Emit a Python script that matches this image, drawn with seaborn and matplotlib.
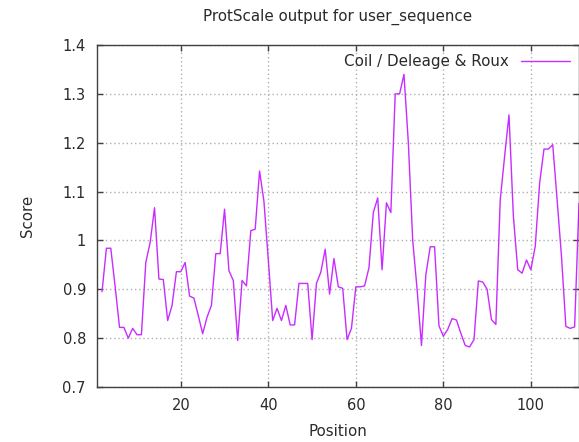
import matplotlib
matplotlib.use("Agg")
import matplotlib.pyplot as plt
import matplotlib.ticker as mticker
import seaborn as sns
import pandas as pd

positions = list(range(2, 112))
scores = [
    0.895, 0.984, 0.984, 0.905, 0.822, 0.822, 0.800, 0.820, 0.807, 0.807,   # 2-11
    0.955, 0.996, 1.067, 0.921, 0.920, 0.836, 0.867, 0.936, 0.936, 0.955,   # 12-21
    0.886, 0.882, 0.846, 0.809, 0.843, 0.867, 0.973, 0.973, 1.064, 0.938,   # 22-31
    0.918, 0.795, 0.918, 0.907, 1.020, 1.023, 1.142, 1.080, 0.960, 0.836,   # 32-41
    0.861, 0.836, 0.867, 0.827, 0.827, 0.912, 0.912, 0.912, 0.797, 0.912,   # 42-51
    0.935, 0.982, 0.890, 0.963, 0.905, 0.902, 0.797, 0.820, 0.905, 0.905,   # 52-61
    0.907, 0.944, 1.057, 1.087, 0.940, 1.077, 1.057, 1.300, 1.300, 1.340,   # 62-71
    1.200, 1.000, 0.900, 0.785, 0.930, 0.987, 0.987, 0.825, 0.804, 0.818,   # 72-81
    0.840, 0.837, 0.810, 0.785, 0.782, 0.797, 0.917, 0.915, 0.900, 0.838,   # 82-91
    0.828, 1.083, 1.172, 1.257, 1.050, 0.940, 0.933, 0.960, 0.940, 0.988,   # 92-101
    1.117, 1.187, 1.187, 1.196, 1.083, 0.967, 0.824, 0.820, 0.823, 1.076,   # 102-111
]
series_name = "Coil / Deleage & Roux"
title = "ProtScale output for user_sequence"
x_ticks = [20, 40, 60, 80, 100]
y_ticks = [0.7, 0.8, 0.9, 1.0, 1.1, 1.2, 1.3, 1.4]

df = pd.DataFrame({"Position": positions, "Score": scores})

sns.set_style("white")
plt.rcParams["font.family"] = ["DejaVu Sans"]

fig = plt.figure(figsize=(5.79, 4.42), dpi=100)
ax = fig.add_axes([97 / 579, 55 / 442, (579 - 97) / 579, (387 - 45) / 442])

sns.lineplot(data=df, x="Position", y="Score", ax=ax, color="#c82cff",
             linewidth=1.0, label=series_name)

ax.set_xlim(0.85, 111)
ax.set_ylim(0.7, 1.4)
ax.set_xticks(x_ticks)
ax.set_yticks(y_ticks)
ax.yaxis.set_major_formatter(mticker.FormatStrFormatter("%g"))
ax.grid(True, color="#b0b0b0", linestyle=(0, (1, 2)), linewidth=1.0)
ax.tick_params(direction="in", length=4, width=1, colors="#404040",
               labelcolor="#2a2a2a", labelsize=10.5, top=True, right=True,
               bottom=True, left=True, pad=8)
for s in ax.spines.values():
    s.set_color("#404040")
    s.set_linewidth(1.0)

ax.set_xlabel("Position", fontsize=10.8, color="#2a2a2a", labelpad=8)
ax.set_ylabel("Score", fontsize=10.8, color="#2a2a2a", labelpad=20)
fig.text((97 + 579) / 2 / 579, 1 - 17 / 442, title, ha="center",
         va="center", fontsize=10.9, color="#2a2a2a")

leg = ax.legend(loc="upper right", frameon=False, fontsize=10.9,
                handlelength=3.2, markerfirst=False, borderaxespad=0.2,
                handletextpad=0.8)
for t in leg.get_texts():
    t.set_color("#2a2a2a")

fig.savefig("out.png", dpi=100)
